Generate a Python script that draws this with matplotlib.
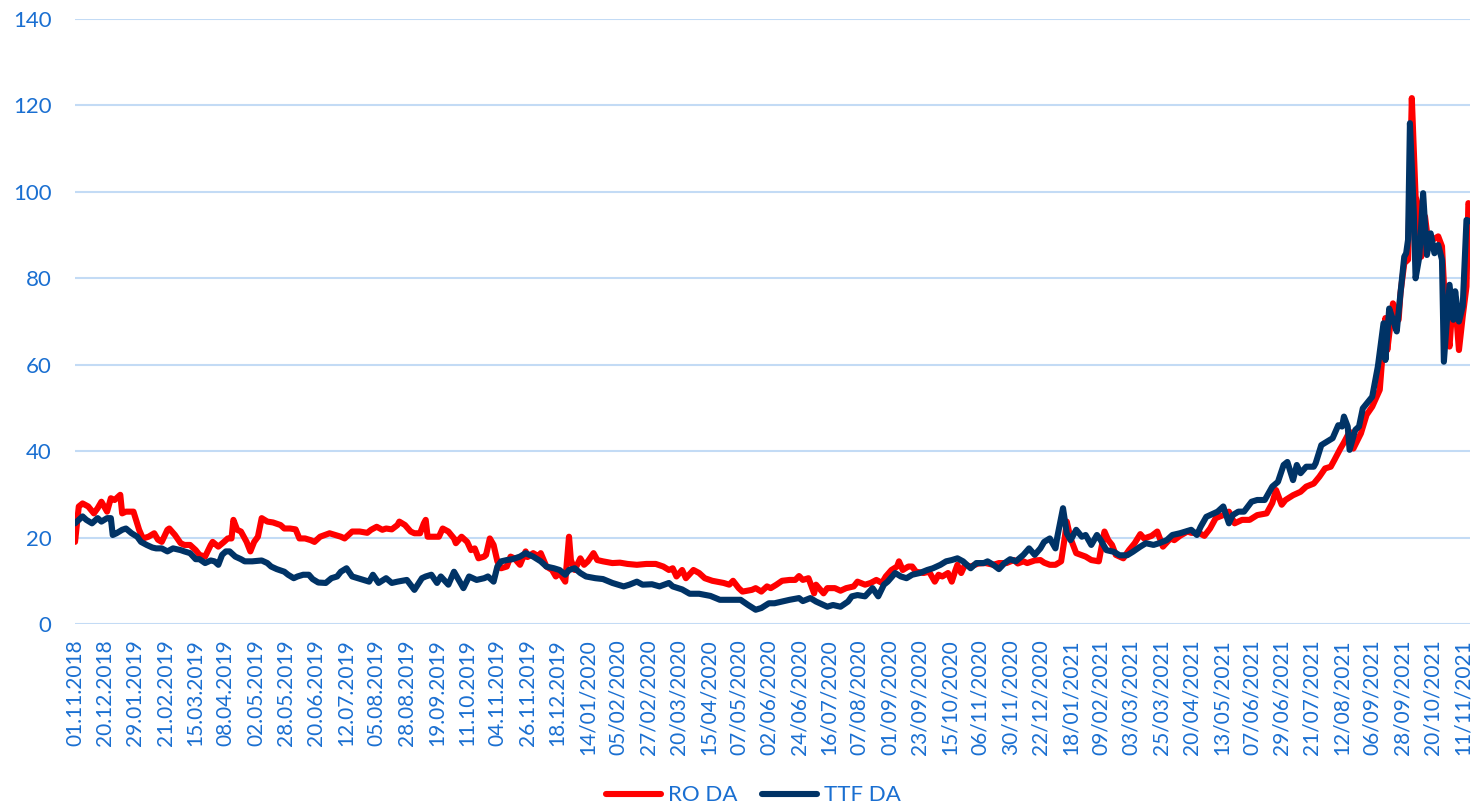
#!/usr/bin/env python

"""RO DA vs TTF DA day-ahead prices, daily trading days 01.11.2018 - 11/2021"""

import matplotlib
matplotlib.use("Agg")
import matplotlib.pyplot as plt

# trading-day index of each sampled point and its price
ro_idx = [0, 2, 4, 7, 10, 12, 14, 17, 19, 21, 24, 25, 27, 31, 34, 36, 39, 42, 44, 46,
	49, 50, 53, 56, 58, 61, 64, 66, 69, 72, 73, 76, 79, 81, 83, 84, 86, 88, 91, 93,
	95, 97, 99, 102, 105, 109, 111, 114, 117, 119, 122, 125, 127, 130, 135, 141, 143, 147, 151, 155,
	157, 160, 163, 165, 168, 171, 172, 175, 178, 180, 183, 185, 186, 187, 190, 193, 195, 198, 201, 202,
	205, 208, 210, 212, 214, 217, 218, 220, 222, 224, 226, 229, 231, 233, 236, 239, 240, 243, 246, 247,
	250, 253, 255, 257, 260, 262, 263, 265, 268, 270, 272, 275, 277, 280, 285, 289, 293, 298, 303, 308,
	312, 315, 317, 319, 322, 324, 328, 331, 334, 338, 344, 347, 349, 352, 354, 359, 361, 364, 367, 369,
	372, 375, 379, 382, 384, 386, 389, 392, 393, 397, 399, 403, 406, 409, 413, 415, 419, 422, 425, 428,
	430, 433, 436, 437, 439, 442, 444, 446, 450, 453, 456, 458, 460, 463, 465, 467, 468, 470, 472, 475,
	479, 483, 487, 490, 494, 498, 500, 503, 505, 509, 512, 514, 517, 520, 523, 525, 526, 528, 531, 536,
	539, 543, 544, 546, 548, 550, 552, 556, 559, 562, 565, 567, 571, 574, 577, 581, 583, 586, 590, 592,
	596, 599, 602, 605, 609, 612, 615, 619, 623, 627, 632, 635, 637, 640, 642, 646, 650, 653, 657, 660,
	663, 666, 668, 671, 673, 676, 678, 682, 685, 688, 692, 695, 696, 699, 702, 703, 705, 707, 709, 711,
	712, 714, 716, 718, 720, 723, 725, 727, 729, 731, 733, 734, 736, 738, 739, 740]
ro_val = [19.0, 27.2, 27.9, 27.2, 25.6, 26.8, 28.3, 26.0, 29.1, 28.7, 29.9, 25.6, 26.0, 26.0, 21.8, 19.8, 20.2, 21.0, 19.5, 19.0,
	21.8, 22.1, 20.6, 18.7, 18.3, 18.3, 17.1, 16.0, 15.6, 18.3, 19.0, 17.9, 19.0, 19.8, 19.8, 24.1, 21.8, 21.4, 19.0, 16.8,
	19.0, 20.2, 24.5, 23.7, 23.5, 22.9, 22.1, 22.1, 21.9, 19.8, 19.8, 19.4, 19.0, 20.2, 21.0, 20.2, 19.8, 21.4, 21.4, 21.1,
	21.8, 22.5, 21.8, 22.1, 21.9, 22.9, 23.7, 22.9, 21.4, 21.0, 21.0, 23.3, 24.1, 20.2, 20.2, 20.2, 22.1, 21.4, 19.8, 18.7,
	20.2, 19.0, 17.1, 17.5, 15.2, 15.6, 16.0, 19.8, 18.3, 14.5, 12.9, 13.3, 15.6, 15.2, 13.7, 16.8, 15.5, 16.4, 15.6, 16.4,
	13.3, 12.5, 11.0, 11.8, 9.8, 20.2, 14.8, 12.5, 15.2, 13.7, 14.5, 16.4, 14.8, 14.5, 14.1, 14.2, 13.9, 13.7, 13.9, 13.9,
	13.3, 12.5, 12.9, 11.0, 12.5, 10.6, 12.5, 11.8, 10.6, 10.0, 9.5, 9.1, 10.0, 8.3, 7.5, 7.9, 8.3, 7.5, 8.7, 8.3,
	9.1, 10.0, 10.2, 10.2, 11.1, 10.2, 10.6, 7.1, 9.1, 7.1, 8.3, 8.3, 7.7, 8.3, 8.7, 9.8, 9.1, 9.5, 10.2, 9.5,
	11.0, 12.5, 13.3, 14.5, 12.5, 13.3, 13.3, 12.1, 11.8, 12.1, 9.8, 11.4, 11.0, 11.8, 9.8, 12.5, 13.7, 11.8, 13.7, 13.3,
	14.0, 14.1, 13.7, 14.1, 14.1, 14.8, 14.0, 14.5, 14.1, 14.7, 14.8, 14.2, 13.7, 13.7, 14.5, 20.2, 23.7, 19.8, 16.4, 15.6,
	14.8, 14.5, 16.8, 21.4, 19.4, 18.3, 16.0, 15.2, 17.1, 18.7, 20.8, 19.8, 20.4, 21.4, 17.9, 19.8, 19.4, 20.4, 21.4, 21.1,
	21.1, 20.4, 22.1, 24.5, 25.2, 26.0, 23.3, 24.1, 24.1, 25.2, 25.6, 28.0, 31.0, 27.6, 28.7, 29.8, 30.6, 31.8, 32.5, 34.1,
	36.0, 36.4, 38.0, 40.5, 42.0, 44.5, 40.6, 44.1, 48.4, 50.3, 54.2, 70.8, 63.4, 74.2, 70.4, 76.6, 83.5, 84.3, 121.7, 98.9,
	97.4, 85.0, 94.3, 87.4, 88.9, 89.7, 87.4, 70.4, 64.2, 76.6, 68.9, 63.4, 71.2, 78.1, 97.4, 96.6]

ttf_idx = [0, 4, 6, 9, 12, 14, 17, 19, 20, 22, 25, 27, 30, 33, 35, 38, 41, 43, 46, 49,
	52, 56, 58, 61, 64, 66, 69, 72, 74, 76, 78, 80, 82, 85, 88, 90, 94, 99, 102, 104,
	107, 111, 113, 116, 118, 121, 124, 126, 129, 133, 136, 139, 141, 144, 147, 150, 153, 156, 158, 161,
	165, 168, 171, 176, 180, 184, 186, 189, 192, 194, 198, 201, 206, 209, 213, 217, 219, 222, 224, 226,
	229, 232, 236, 239, 243, 247, 250, 254, 257, 260, 262, 265, 268, 271, 276, 280, 285, 291, 294, 298,
	301, 306, 310, 315, 317, 322, 326, 331, 337, 342, 347, 353, 357, 361, 364, 368, 371, 375, 379, 384,
	386, 390, 393, 397, 399, 402, 406, 410, 412, 415, 419, 423, 426, 429, 431, 435, 438, 441, 444, 448,
	452, 455, 459, 462, 465, 468, 471, 475, 478, 482, 484, 487, 490, 493, 496, 499, 503, 506, 509, 512,
	514, 517, 520, 521, 524, 526, 528, 531, 534, 536, 539, 542, 544, 547, 551, 554, 558, 561, 565, 568,
	572, 575, 579, 582, 586, 589, 592, 595, 597, 600, 604, 606, 609, 612, 614, 617, 620, 624, 627, 631,
	635, 638, 641, 643, 646, 648, 650, 653, 657, 658, 661, 664, 667, 670, 672, 673, 675, 676, 679, 681,
	683, 686, 688, 691, 694, 695, 697, 699, 701, 703, 705, 706, 707, 708, 710, 711, 713, 715, 717, 719,
	721, 723, 725, 726, 729, 731, 732, 734, 736, 738, 740]
ttf_val = [23.3, 24.9, 24.1, 23.3, 24.5, 23.7, 24.5, 24.5, 20.6, 21.0, 21.8, 22.1, 21.0, 20.2, 19.0, 18.3, 17.7, 17.5, 17.5, 16.8,
	17.5, 17.1, 16.8, 16.4, 15.0, 15.0, 14.1, 14.7, 14.5, 13.7, 16.0, 16.8, 16.8, 15.6, 15.0, 14.5, 14.5, 14.7, 14.1, 13.3,
	12.7, 12.1, 11.4, 10.6, 11.0, 11.4, 11.4, 10.4, 9.6, 9.5, 10.6, 11.0, 12.1, 12.9, 11.0, 10.6, 10.2, 9.8, 11.4, 9.5,
	10.6, 9.5, 9.8, 10.2, 7.9, 10.6, 11.0, 11.4, 9.5, 11.0, 9.1, 12.1, 8.3, 11.0, 10.2, 10.6, 11.0, 9.8, 13.3, 14.5,
	14.8, 15.0, 15.6, 16.4, 15.6, 14.5, 13.3, 12.9, 12.5, 11.4, 12.5, 12.9, 11.8, 11.0, 10.6, 10.4, 9.5, 8.7, 9.1, 9.8,
	9.1, 9.2, 8.7, 9.5, 8.7, 8.0, 7.0, 7.0, 6.5, 5.6, 5.6, 5.6, 4.4, 3.3, 3.7, 4.8, 4.8, 5.2, 5.6, 6.0,
	5.3, 6.0, 5.2, 4.4, 4.0, 4.4, 4.0, 5.2, 6.4, 6.7, 6.4, 8.3, 6.4, 9.1, 9.8, 11.8, 11.0, 10.6, 11.4, 11.8,
	12.5, 12.9, 13.7, 14.5, 14.8, 15.2, 14.5, 12.9, 14.1, 14.1, 14.5, 13.7, 12.7, 14.1, 15.0, 14.5, 16.0, 17.5, 16.0, 17.5,
	19.0, 19.8, 17.5, 20.2, 26.8, 21.0, 19.4, 21.8, 20.2, 20.6, 18.3, 20.6, 19.4, 17.1, 16.7, 15.9, 15.9, 16.7, 17.9, 18.7,
	18.3, 18.7, 19.4, 20.6, 21.0, 21.4, 21.8, 20.6, 22.5, 24.8, 25.6, 26.0, 27.2, 23.3, 25.2, 26.0, 26.0, 28.3, 28.7, 28.7,
	31.8, 32.9, 36.8, 37.5, 33.3, 36.8, 34.9, 36.4, 36.4, 37.2, 41.4, 42.2, 43.0, 46.0, 45.7, 48.0, 45.7, 40.3, 44.9, 45.7,
	49.9, 51.5, 52.6, 59.6, 69.6, 61.1, 73.0, 70.4, 67.7, 76.6, 85.0, 85.8, 88.9, 115.9, 95.8, 80.0, 85.0, 99.7, 85.4, 90.4,
	85.8, 87.7, 84.3, 60.7, 78.5, 70.4, 77.0, 70.0, 73.5, 93.5, 93.2]

# category labels, one every 16 trading days
date_labels = ["01.11.2018", "20.12.2018", "29.01.2019", "21.02.2019", "15.03.2019", "08.04.2019",
	"02.05.2019", "28.05.2019", "20.06.2019", "12.07.2019", "05.08.2019", "28.08.2019",
	"19.09.2019", "11.10.2019", "04.11.2019", "26.11.2019", "18.12.2019", "14/01/2020",
	"05/02/2020", "27/02/2020", "20/03/2020", "15/04/2020", "07/05/2020", "02/06/2020",
	"24/06/2020", "16/07/2020", "07/08/2020", "01/09/2020", "23/09/2020", "15/10/2020",
	"06/11/2020", "30/11/2020", "22/12/2020", "18/01/2021", "09/02/2021", "03/03/2021",
	"25/03/2021", "20/04/2021", "13/05/2021", "07/06/2021", "29/06/2021", "21/07/2021",
	"12/08/2021", "06/09/2021", "28/09/2021", "20/10/2021", "11/11/2021"]
label_step = 16
n_days = 741

TEXT_COLOR = "#1a6fd1"
GRID_COLOR = "#c3dbf5"


def plot_prices(fig_location="out.png"):
	"""Draws both day-ahead price series on a trading-day category axis"""
	plt.rcParams['font.family'] = ['Lato', 'DejaVu Sans']

	fig = plt.figure(figsize=(14.71, 8.06), dpi=100)
	ax = fig.add_axes([0.051, 0.2258, 0.9485, 0.7506])

	ax.plot(ro_idx, ro_val, color="#ff0000", linewidth=4.4, solid_joinstyle="round",
		solid_capstyle="round", label="RO DA", zorder=3)
	ax.plot(ttf_idx, ttf_val, color="#003366", linewidth=4.4, solid_joinstyle="round",
		solid_capstyle="round", label="TTF DA", zorder=4)

	#axis ranges and grid
	ax.set_ylim(0, 140)
	ax.set_yticks(range(0, 141, 20))
	ax.set_xlim(0, n_days - 1)
	ax.set_xticks([i * label_step for i in range(len(date_labels))])
	ax.set_xticklabels(date_labels, rotation=90)
	ax.grid(axis="y", color=GRID_COLOR, linewidth=1.5)
	ax.set_axisbelow(True)
	for spine in ax.spines.values():
		spine.set_visible(False)

	ax.tick_params(axis="both", length=0, labelsize=15, labelcolor=TEXT_COLOR)
	ax.tick_params(axis="y", labelsize=16, pad=17)
	ax.tick_params(axis="x", pad=11)

	#legend below the labels
	leg = fig.legend(loc="lower center", bbox_to_anchor=(0.512, -0.024), ncol=2, frameon=False,
		fontsize=16, handlelength=2.5, handletextpad=0.3, columnspacing=1.1)
	for text in leg.get_texts():
		text.set_color(TEXT_COLOR)

	fig.savefig(fig_location, dpi=100)


if __name__ == "__main__":
	plot_prices("out.png")
